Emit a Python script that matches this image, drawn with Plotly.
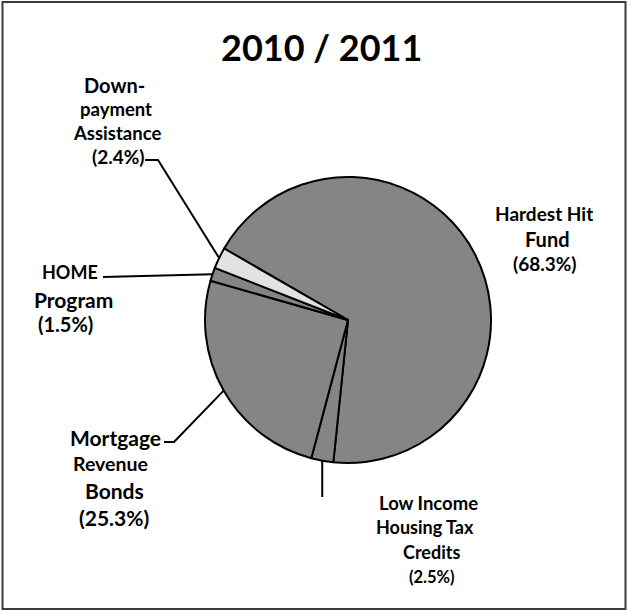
import math
import plotly.graph_objects as go

# Funding sources, clockwise from the top-left edge of the pie
categories = ["Hardest Hit Fund", "Low Income Housing Tax Credits",
              "Mortgage Revenue Bonds", "HOME Program", "Down-payment Assistance"]
shares = [68.3, 2.5, 25.3, 1.5, 2.4]
label_lines = [["Hardest Hit", "Fund"],
               ["Low Income", "Housing Tax", "Credits"],
               ["Mortgage", "Revenue", "Bonds"],
               ["HOME", "Program"],
               ["Down-", "payment", "Assistance"]]
slice_colors = ["#858585", "#858585", "#858585", "#858585", "#e2e2e2"]
title_text = "2010 / 2011"

W, H = 628, 612
CX, CY, R = 348, 320, 143      # pie centre and radius in pixels
ROTATION = 300                  # first slice edge, degrees clockwise from 12 o'clock
FONT = "Lato, Open Sans, sans-serif"

# per-line placement of each label: (x centre, y centre, font size), pixels
line_layout = [
    [(544, 213, 19), (547, 239, 20), (545, 263, 19)],
    [(428, 503, 18.5), (425, 527, 18), (431, 552, 18), (432, 577, 16.5)],
    [(116, 437, 21), (110, 463, 19.5), (115, 490, 21), (114, 517, 21)],
    [(70, 272, 18), (73, 299, 21), (65, 324, 20)],
    [(115, 85, 20), (116, 109, 18.5), (117, 133, 18.5), (118, 156, 19)],
]


def px(x):
    return x / W


def py(y):
    return 1 - y / H


def edge_point(frac_mid):
    ang = math.radians(ROTATION + 360 * frac_mid)
    return CX + R * math.sin(ang), CY - R * math.cos(ang)


# middle of each slice on the rim
total = sum(shares)
mids = []
acc = 0
for v in shares:
    mids.append(edge_point((acc + v / 2) / total))
    acc += v

fig = go.Figure()
fig.add_trace(go.Pie(
    labels=categories, values=shares, sort=False, direction="clockwise",
    rotation=ROTATION, textinfo="none", hoverinfo="label+percent",
    marker=dict(colors=slice_colors, line=dict(color="black", width=2)),
    domain=dict(x=[px(CX - R), px(CX + R)], y=[py(CY + R), py(CY - R)]),
    showlegend=False,
))

annotations = []
for lines, v, spots in zip(label_lines, shares, line_layout):
    for text, (lx, ly, fs) in zip(lines + [f"({v}%)"], spots):
        annotations.append(dict(
            x=px(lx), y=py(ly), xref="paper", yref="paper", text=f"<b>{text}</b>",
            showarrow=False, xanchor="center", yanchor="middle",
            font=dict(family=FONT, size=fs, color="black"),
        ))
annotations.append(dict(
    x=px(321), y=py(47), xref="paper", yref="paper", text=f"<b>{title_text}</b>",
    showarrow=False, xanchor="center", yanchor="middle",
    font=dict(family=FONT, size=36, color="black"),
))


def path(points):
    d = "M " + " L ".join(f"{px(x):.5f},{py(y):.5f}" for x, y in points)
    return dict(type="path", path=d, xref="paper", yref="paper",
                line=dict(color="black", width=2), layer="above")


shapes = [
    # leader lines from labels to slice midpoints
    path([(145, 160), (158, 160), mids[4]]),
    path([(103, 277), mids[3]]),
    path([(164, 442), (174, 442), mids[2]]),
    path([mids[1], (mids[1][0], 497)]),
    # frame around the whole chart
    dict(type="rect", xref="paper", yref="paper",
         x0=px(2.5), x1=px(625.5), y0=py(609), y1=py(2),
         line=dict(color="#3c3c3c", width=2)),
]

fig.update_layout(
    width=W, height=H, margin=dict(l=0, r=0, t=0, b=0),
    paper_bgcolor="white", plot_bgcolor="white",
    annotations=annotations, shapes=shapes,
)
fig.write_html("out.html")
